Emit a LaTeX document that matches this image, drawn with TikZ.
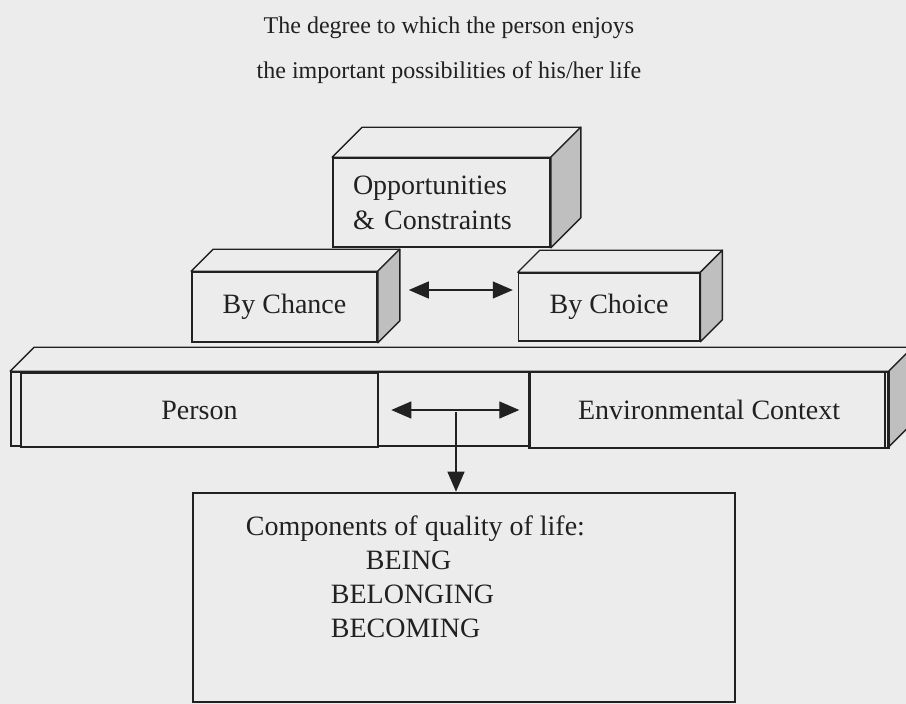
\documentclass[tikz,border=0pt]{standalone}
\usepackage{fontspec}
\setmainfont{Liberation Serif}
\usetikzlibrary{calc,positioning,arrows.meta}
\definecolor{paper}{gray}{0.925}
\definecolor{shade}{gray}{0.75}
\definecolor{ink}{gray}{0.13}
\tikzset{
    heading/.style={align=center, font=\fontsize{24}{45}\selectfont, text=ink},
    front/.style={draw=ink, line width=1.6pt, fill=paper, inner sep=0pt, text=ink, font=\fontsize{28}{35}\selectfont},
    heavy/.style={front, line width=2.6pt},
    top/.style={draw=ink, line width=1.4pt, fill=paper, line join=round},
    side/.style={draw=ink, line width=1.4pt, fill=shade, line join=round},
    tip/.tip={Triangle[length=20pt,width=17pt]},
    link/.style={draw=ink, line width=1.3pt, -tip},
    twoway/.style={draw=ink, line width=1.3pt, tip-tip}
}
\begin{document}
\begin{tikzpicture}[x=1pt, y=-1pt]
    \path[use as bounding box, clip] (0,0) rectangle (906,704);
    \fill[paper] (0,0) rectangle (906,704);

    \node[heading] (goal) at (449,50) {The degree to which the person enjoys\\the important possibilities of his/her life};

    % long slab, person and context sit in its face
    \node[front, minimum width=877pt, minimum height=74pt] (base) at (449.5,409) {};
    \draw[top] (base.north west) -- ++(24,-24) -- ([xshift=24pt,yshift=24pt]base.north east) -- (base.north east) -- cycle;
    \draw[side] (base.north east) -- ++(24,-24) -- ([xshift=24pt,yshift=24pt]base.south east) -- (base.south east) -- cycle;
    \node[heavy, minimum width=357pt, minimum height=74pt] (person) at (199.5,410) {Person};
    \node[heavy, minimum width=359pt, minimum height=76pt, right=149pt of person] (context) {Environmental Context};
    \draw[ink, line width=1.4pt] ([xshift=-5pt]context.north east) -- ([xshift=-5pt]context.south east);

    % chance and choice blocks
    \node[front, minimum width=185pt, minimum height=70pt] (chance) at (284.5,307) {By Chance};
    \node[front, minimum width=181pt, minimum height=68pt, right=140pt of chance] (choice) {By Choice};
    \draw[top] (chance.north west) -- ++(22,-22) -- ([xshift=22pt,yshift=22pt]chance.north east) -- (chance.north east) -- cycle;
    \draw[side] (chance.north east) -- ++(22,-22) -- ([xshift=22pt,yshift=22pt]chance.south east) -- (chance.south east) -- cycle;
    \draw[top] (choice.north west) -- ++(22,-22) -- ([xshift=22pt,yshift=22pt]choice.north east) -- (choice.north east) -- cycle;
    \draw[side] (choice.north east) -- ++(22,-22) -- ([xshift=22pt,yshift=22pt]choice.south east) -- (choice.south east) -- cycle;

    % opportunities block on top
    \node[front, minimum height=89pt, text width=177pt, inner xsep=20pt, align=left] (oc) at (441.5,202.5) {Opportunities\\\& Constraints};
    \draw[top] (oc.north west) -- ++(30,-30) -- ([xshift=30pt,yshift=30pt]oc.north east) -- (oc.north east) -- cycle;
    \draw[side] (oc.north east) -- ++(30,-30) -- ([xshift=30pt,yshift=30pt]oc.south east) -- (oc.south east) -- cycle;

    % outcome
    \node[heavy, minimum width=542pt, minimum height=209pt] (quality) at (464,597.5) {};
    \node[font=\fontsize{28}{34}\selectfont, text=ink, align=left, anchor=north west, inner sep=0pt] (parts) at ([xshift=54pt,yshift=-24pt]quality.north west) {Components of quality of life:\\\hspace*{120pt}BEING\\\hspace*{85pt}BELONGING\\\hspace*{85pt}BECOMING};

    \draw[twoway] ([xshift=31pt,yshift=17pt]chance.east) -- ([xshift=-5pt,yshift=17pt]choice.west);
    \draw[twoway] ([xshift=12pt]person.east) -- ([xshift=-9pt]context.west);
    \coordinate (hub) at (456,412);
    \draw[link] (hub) -- (hub |- quality.north);
\end{tikzpicture}
\end{document}
